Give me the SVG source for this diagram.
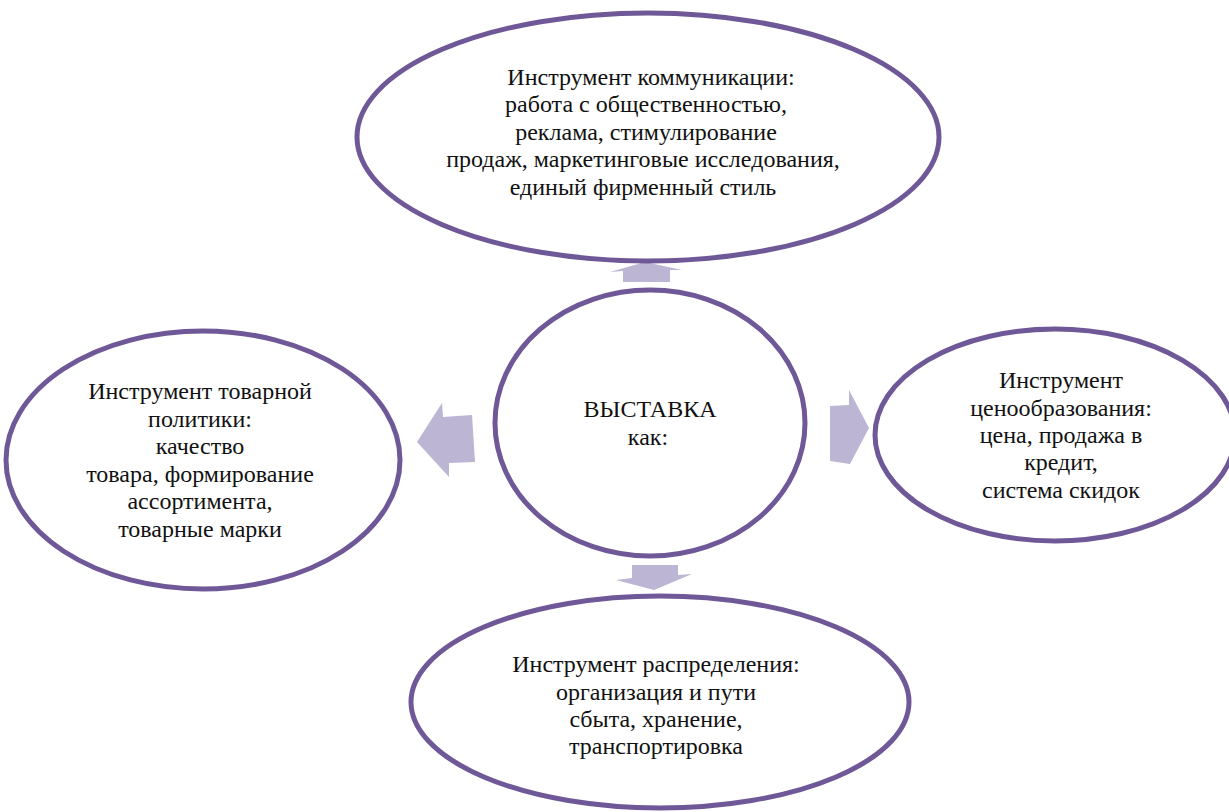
<svg xmlns="http://www.w3.org/2000/svg" width="1229" height="812" viewBox="0 0 1229 812">
<style>
.node{fill:#fff;stroke:#6F5897;stroke-width:5}
.arr{fill:#BCB5D4;stroke:none}
</style>
<rect width="1229" height="812" fill="#fff"/>
<g id="connectors">
<polygon class="arr" points="645,262 682,270 670,270 670,282 623,282 623,271 610,272"/>
<polygon class="arr" points="632,565 678,565 678,575 692,574 654,590 616,580 632,578"/>
<polygon class="arr" points="417,442 442,403 443,417 472,415 475,462 449,463 449,477"/>
<polygon class="arr" points="830,406 849,405 849,390 869,428 850,464 830,461"/>
</g>
<g id="top">
<ellipse class="node" cx="648" cy="137" rx="291" ry="124"/>
<text x="651" y="85" font-family="Liberation Serif, serif" font-size="24" fill="#111" text-anchor="middle">Инструмент коммуникации:</text>
<text x="646" y="112" font-family="Liberation Serif, serif" font-size="24" fill="#111" text-anchor="middle">работа с общественностью,</text>
<text x="646" y="140" font-family="Liberation Serif, serif" font-size="24" fill="#111" text-anchor="middle">реклама, стимулирование</text>
<text x="643" y="167" font-family="Liberation Serif, serif" font-size="24" fill="#111" text-anchor="middle">продаж, маркетинговые исследования,</text>
<text x="643" y="195" font-family="Liberation Serif, serif" font-size="24" fill="#111" text-anchor="middle">единый фирменный стиль</text>
</g>
<g id="center">
<ellipse class="node" cx="650" cy="423" rx="155" ry="133"/>
<text x="650" y="417" font-family="Liberation Serif, serif" font-size="24" fill="#111" text-anchor="middle">ВЫСТАВКА</text>
<text x="648" y="445" font-family="Liberation Serif, serif" font-size="24" fill="#111" text-anchor="middle">как:</text>
</g>
<g id="left">
<ellipse class="node" cx="203" cy="460" rx="197" ry="129"/>
<text x="200" y="399" font-family="Liberation Serif, serif" font-size="24" fill="#111" text-anchor="middle">Инструмент товарной</text>
<text x="200" y="427" font-family="Liberation Serif, serif" font-size="24" fill="#111" text-anchor="middle">политики:</text>
<text x="200" y="454" font-family="Liberation Serif, serif" font-size="24" fill="#111" text-anchor="middle">качество</text>
<text x="200" y="482" font-family="Liberation Serif, serif" font-size="24" fill="#111" text-anchor="middle">товара, формирование</text>
<text x="200" y="509" font-family="Liberation Serif, serif" font-size="24" fill="#111" text-anchor="middle">ассортимента,</text>
<text x="200" y="537" font-family="Liberation Serif, serif" font-size="24" fill="#111" text-anchor="middle">товарные марки</text>
</g>
<g id="right">
<ellipse class="node" cx="1055" cy="435" rx="180" ry="106"/>
<text x="1061" y="388" font-family="Liberation Serif, serif" font-size="24" fill="#111" text-anchor="middle">Инструмент</text>
<text x="1061" y="416" font-family="Liberation Serif, serif" font-size="24" fill="#111" text-anchor="middle">ценообразования:</text>
<text x="1061" y="443" font-family="Liberation Serif, serif" font-size="24" fill="#111" text-anchor="middle">цена, продажа в</text>
<text x="1061" y="470" font-family="Liberation Serif, serif" font-size="24" fill="#111" text-anchor="middle">кредит,</text>
<text x="1061" y="498" font-family="Liberation Serif, serif" font-size="24" fill="#111" text-anchor="middle">система скидок</text>
</g>
<g id="bottom">
<ellipse class="node" cx="660" cy="702" rx="249" ry="106"/>
<text x="656" y="672" font-family="Liberation Serif, serif" font-size="24" fill="#111" text-anchor="middle">Инструмент распределения:</text>
<text x="656" y="700" font-family="Liberation Serif, serif" font-size="24" fill="#111" text-anchor="middle">организация и пути</text>
<text x="656" y="727" font-family="Liberation Serif, serif" font-size="24" fill="#111" text-anchor="middle">сбыта, хранение,</text>
<text x="656" y="754" font-family="Liberation Serif, serif" font-size="24" fill="#111" text-anchor="middle">транспортировка</text>
</g>
</svg>
